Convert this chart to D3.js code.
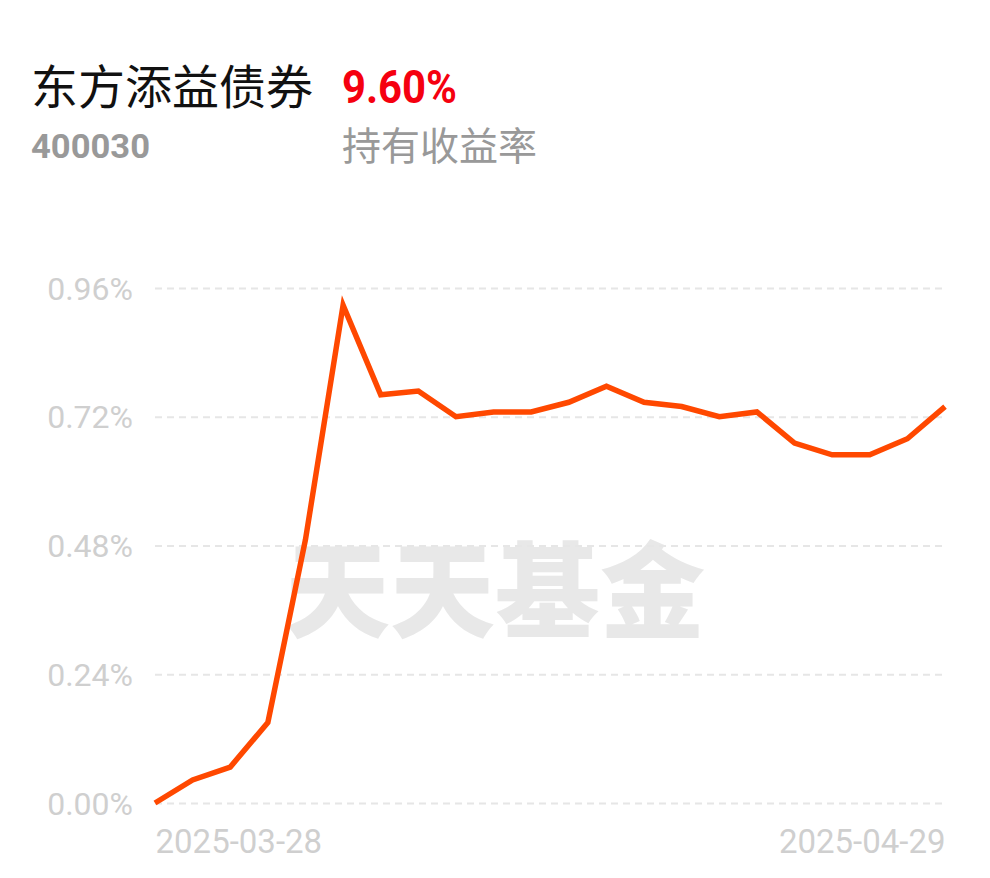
<!DOCTYPE html>
<html><head><meta charset="utf-8">
<script src="https://cdn.jsdelivr.net/npm/d3@7"></script>
<style>body{margin:0;background:#fff}svg{display:block}</style>
</head><body>
<script>
const fundName = "东方添益债券";
const fundCode = "400030";
const holdReturn = "9.60%";
const holdLabel = "持有收益率";
const dates = ["2025-03-28","2025-03-31","2025-04-01","2025-04-02","2025-04-03","2025-04-07","2025-04-08","2025-04-09","2025-04-10","2025-04-11","2025-04-14","2025-04-15","2025-04-16","2025-04-17","2025-04-18","2025-04-21","2025-04-22","2025-04-23","2025-04-24","2025-04-25","2025-04-28","2025-04-29"];
const values = [0.00,0.043,0.067,0.150,0.491,0.928,0.761,0.768,0.720,0.729,0.729,0.747,0.777,0.747,0.739,0.720,0.729,0.671,0.649,0.649,0.679,0.739];
const yTicks = [0,0.24,0.48,0.72,0.96];

const W=990,H=878;
const svg=d3.select("body").append("svg").attr("width",W).attr("height",H);
const m={l:155,r:945,t:288,b:803};
const x=d3.scalePoint().domain(dates).range([m.l,m.r]);
const y=d3.scaleLinear().domain([0,0.96]).range([m.b,m.t]);

// header
const cjk="'Noto Sans CJK SC','Noto Sans',sans-serif";
svg.append("text").attr("x",31).attr("y",104).attr("font-family",cjk).attr("font-size",47).attr("fill","#111").text(fundName);
svg.append("text").attr("x",342).attr("y",103).attr("font-family","Roboto,sans-serif").attr("font-weight",700).attr("font-size",46).attr("fill","#f5000f").attr("textLength",115).attr("lengthAdjust","spacingAndGlyphs").text(holdReturn);
svg.append("text").attr("x",31).attr("y",158).attr("font-family","Roboto,sans-serif").attr("font-weight",700).attr("font-size",33).attr("fill","#999").attr("textLength",119).attr("lengthAdjust","spacingAndGlyphs").text(fundCode);
svg.append("text").attr("x",342).attr("y",160).attr("font-family",cjk).attr("font-size",39).attr("fill","#999").text(holdLabel);

// watermark
svg.append("text").attr("x",495).attr("y",630).attr("text-anchor","middle").attr("font-family","'Noto Sans CJK SC',sans-serif").attr("font-weight",900).attr("font-size",104).attr("fill","#e8e8e8").attr("textLength",420).attr("lengthAdjust","spacingAndGlyphs").text("天天基金");

// grid
const yAxis=d3.axisLeft(y).tickValues(yTicks).tickSize(-(m.r-m.l)).tickFormat(d=>d.toFixed(2)+"%");
const ga=svg.append("g").attr("transform",`translate(${m.l},0)`).call(yAxis);
ga.select(".domain").remove();
ga.selectAll(".tick line").attr("stroke","#e6e6e6").attr("stroke-width",2).attr("stroke-dasharray","7,5");
ga.selectAll(".tick text").attr("x",-22).attr("dy","0.35em").attr("font-family","Roboto,sans-serif").attr("font-size",32).attr("fill","#cfcfcf");

// x labels
const xAxis=d3.axisBottom(x).tickValues([dates[0],dates[dates.length-1]]).tickSize(0);
const gx=svg.append("g").attr("transform",`translate(0,${m.b})`).call(xAxis);
gx.select(".domain").remove();
gx.selectAll(".tick text").attr("y",50).attr("dy",0).attr("font-family","Roboto,sans-serif").attr("font-size",33).attr("fill","#cfcfcf")
  .attr("text-anchor",(d,i)=>i===0?"start":"end");

// line
const line=d3.line().x((d,i)=>x(dates[i])).y(d=>y(d));
svg.append("path").datum(values).attr("d",line).attr("fill","none").attr("stroke","#ff4800").attr("stroke-width",5.5).attr("stroke-linejoin","miter").attr("stroke-linecap","butt");
</script>
</body></html>
